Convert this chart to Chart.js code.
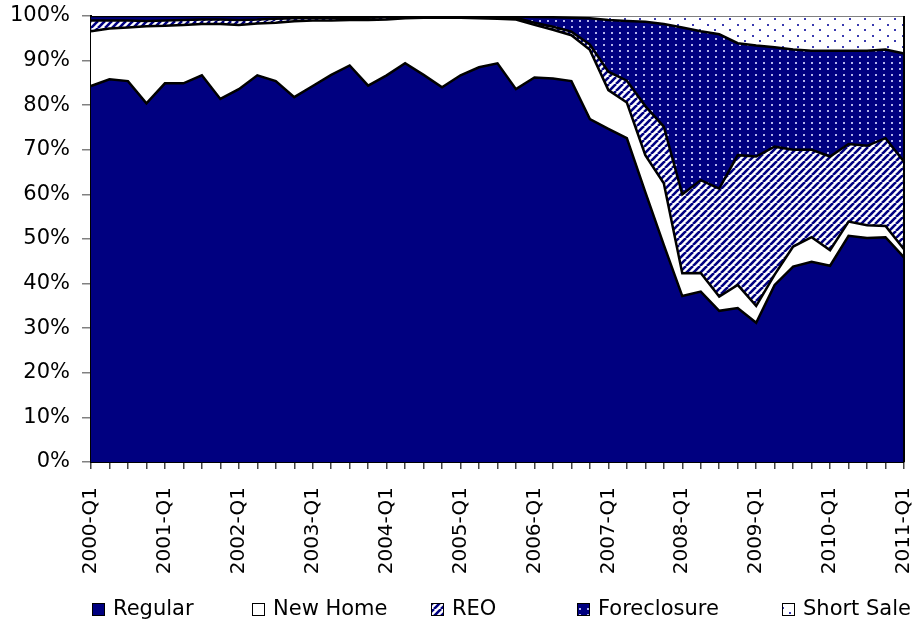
<!DOCTYPE html>
<html>
<head>
<meta charset="utf-8">
<script src="https://cdn.jsdelivr.net/npm/chart.js@4"></script>
<style>
  body { margin: 0; background: #fff; }
  #wrap { width: 915px; height: 624px; }
</style>
</head>
<body>
<div id="wrap"><canvas id="mixChart"></canvas></div>
<script>
const quarters = [
  '2000-Q1','2000-Q2','2000-Q3','2000-Q4','2001-Q1','2001-Q2','2001-Q3','2001-Q4',
  '2002-Q1','2002-Q2','2002-Q3','2002-Q4','2003-Q1','2003-Q2','2003-Q3','2003-Q4',
  '2004-Q1','2004-Q2','2004-Q3','2004-Q4','2005-Q1','2005-Q2','2005-Q3','2005-Q4',
  '2006-Q1','2006-Q2','2006-Q3','2006-Q4','2007-Q1','2007-Q2','2007-Q3','2007-Q4',
  '2008-Q1','2008-Q2','2008-Q3','2008-Q4','2009-Q1','2009-Q2','2009-Q3','2009-Q4',
  '2010-Q1','2010-Q2','2010-Q3','2010-Q4','2011-Q1'
];

// share of sales, percent
const regular = [84.3, 85.8, 85.4, 80.4, 84.9, 84.9, 86.7, 81.4, 83.6, 86.7, 85.4, 81.8,
  84.3, 86.8, 88.9, 84.4, 86.7, 89.4, 86.8, 84.0, 86.7, 88.5, 89.4, 83.6,
  86.2, 86.0, 85.4, 76.9, 74.7, 72.6, 60.5, 48.7, 37.2, 38.2, 33.9, 34.5,
  31.2, 39.7, 43.8, 44.9, 44.0, 50.7, 50.2, 50.4, 45.9];
const newHome = [12.3, 11.4, 12.0, 17.3, 12.9, 13.1, 11.5, 16.8, 14.4, 11.6, 13.1, 17.0,
  14.7, 12.2, 10.2, 14.7, 12.5, 10.1, 12.8, 15.6, 12.9, 11.0, 10.0, 15.6,
  11.8, 10.9, 10.3, 15.5, 8.7, 8.0, 8.3, 13.8, 5.1, 4.2, 3.2, 5.2,
  3.8, 2.3, 4.5, 5.5, 3.5, 3.2, 2.9, 2.5, 1.8];
const reo = [2.4, 1.8, 1.6, 1.2, 1.2, 1.1, 1.0, 1.0, 1.1, 0.9, 0.9, 0.7,
  0.6, 0.6, 0.5, 0.5, 0.5, 0.3, 0.2, 0.2, 0.2, 0.3, 0.3, 0.4,
  0.5, 0.7, 0.8, 1.2, 4.1, 4.9, 11.0, 12.7, 17.7, 20.8, 24.2, 29.1,
  33.5, 28.7, 21.7, 19.6, 21.0, 17.4, 17.8, 19.7, 19.6];
const foreclosure = [1.0, 1.0, 1.0, 1.1, 1.0, 0.9, 0.8, 0.8, 0.9, 0.8, 0.6, 0.5,
  0.4, 0.4, 0.4, 0.4, 0.3, 0.2, 0.2, 0.2, 0.2, 0.2, 0.3, 0.3,
  1.3, 2.1, 3.1, 5.9, 11.6, 13.4, 18.9, 23.0, 37.4, 33.4, 34.6, 25.1,
  24.9, 22.3, 22.5, 22.2, 23.7, 20.9, 21.3, 19.9, 24.3];
const shortSale = [0, 0, 0, 0, 0, 0, 0, 0, 0, 0, 0, 0,
  0, 0, 0, 0, 0, 0, 0, 0, 0, 0, 0, 0.1,
  0.2, 0.3, 0.4, 0.5, 0.9, 1.1, 1.3, 1.8, 2.6, 3.4, 4.1, 6.1,
  6.6, 7.0, 7.5, 7.8, 7.8, 7.8, 7.8, 7.5, 8.4];

const yTicks = [0, 10, 20, 30, 40, 50, 60, 70, 80, 90, 100];

const navy = '#000080';

// legend box left edges (px), the legend is drawn by hand below
const legendBoxX = [92, 252, 431, 577, 782];

function stripes() {
  const n = 7;
  const c = document.createElement('canvas');
  c.width = n; c.height = n;
  const g = c.getContext('2d');
  g.fillStyle = '#fff';
  g.fillRect(0, 0, n, n);
  g.strokeStyle = navy;
  g.lineWidth = 2.6;
  for (let k = -1; k <= 1; k++) {
    g.beginPath();
    g.moveTo(k * n, n);
    g.lineTo(k * n + n, 0);
    g.stroke();
  }
  return g.createPattern(c, 'repeat');
}

function dots(bg, fg, w, h, pts) {
  const c = document.createElement('canvas');
  c.width = w; c.height = h;
  const g = c.getContext('2d');
  g.fillStyle = bg;
  g.fillRect(0, 0, w, h);
  g.fillStyle = fg;
  pts.forEach(p => g.fillRect(p[0], p[1], 2, 2));
  return g.createPattern(c, 'repeat');
}

const rightEdge = {
  id: 'rightEdge',
  afterDatasetsDraw(chart) {
    const a = chart.chartArea;
    const y = chart.scales.y;
    const c = chart.ctx;
    c.save();
    c.strokeStyle = '#000';
    c.lineWidth = 2;
    c.beginPath();
    c.moveTo(a.right, y.getPixelForValue(0));
    c.lineTo(a.right, y.getPixelForValue(100));
    c.stroke();
    c.restore();
  }
};

const boxLegend = {
  id: 'boxLegend',
  afterDraw(chart) {
    const c = chart.ctx;
    const y = 603;
    c.save();
    c.font = '21px "DejaVu Sans"';
    c.textBaseline = 'middle';
    c.fillStyle = '#000';
    chart.data.datasets.forEach((ds, i) => {
      const x = legendBoxX[i];
      c.fillStyle = ds.backgroundColor;
      c.fillRect(x, y, 13, 13);
      c.strokeStyle = '#000';
      c.lineWidth = 1;
      c.strokeRect(x + 0.5, y + 0.5, 12, 12);
      c.fillStyle = '#000';
      c.fillText(ds.label, x + 21, y + 7);
    });
    c.restore();
  }
};

Chart.defaults.font.family = 'DejaVu Sans';
Chart.defaults.font.size = 21;
Chart.defaults.color = '#000';

const ctx = document.getElementById('mixChart').getContext('2d');

const lineOpts = {
  borderColor: '#000',
  borderWidth: 2.5,
  pointRadius: 0,
  tension: 0,
};

new Chart(ctx, {
  type: 'line',
  data: {
    labels: quarters,
    datasets: [
      { label: 'Regular', data: regular, backgroundColor: navy, fill: 'origin', ...lineOpts },
      { label: 'New Home', data: newHome, backgroundColor: '#fff', fill: '-1', ...lineOpts },
      { label: 'REO', data: reo, backgroundColor: stripes(), fill: '-1', ...lineOpts },
      { label: 'Foreclosure', data: foreclosure, fill: '-1', ...lineOpts,
        backgroundColor: dots(navy, '#b4b4ec', 8, 6, [[3, 2]]) },
      { label: 'Short Sale', data: shortSale, fill: '-1', ...lineOpts,
        backgroundColor: dots('#fff', '#3a3ab0', 15, 11, [[2, 2], [9, 7]]),
        borderColor: '#808080', borderWidth: 2 },
    ]
  },
  options: {
    responsive: true,
    maintainAspectRatio: false,
    animation: false,
    layout: { padding: { left: 0, top: 0, right: 0, bottom: 46 } },
    scales: {
      x: {
        offset: false,
        grid: { drawOnChartArea: false, tickLength: 7, color: '#444', lineWidth: 1.5 },
        border: { color: '#000', width: 2 },
        ticks: {
          autoSkip: false,
          maxRotation: 90,
          minRotation: 90,
          padding: 18,
          font: { size: 20 },
          callback: function(v, i) { return i % 4 === 0 ? quarters[i] : ''; }
        },
        afterFit: function(s) {
          s.height = 116;
          s.paddingLeft = 0;
          s.paddingRight = 11;
        }
      },
      y: {
        stacked: true,
        min: 0,
        max: 100,
        afterBuildTicks: function(axis) { axis.ticks = yTicks.map(v => ({ value: v })); },
        grid: { drawOnChartArea: false, tickLength: 9, color: '#808080', lineWidth: 1.5 },
        border: { color: '#000', width: 2 },
        ticks: { padding: 12, callback: v => v + '%' },
        afterFit: function(s) {
          s.width = 91;
          s.paddingTop = 16;
        }
      }
    },
    plugins: {
      legend: { display: false },
      tooltip: { enabled: false },
    }
  },
  plugins: [rightEdge, boxLegend]
});
</script>
</body>
</html>
